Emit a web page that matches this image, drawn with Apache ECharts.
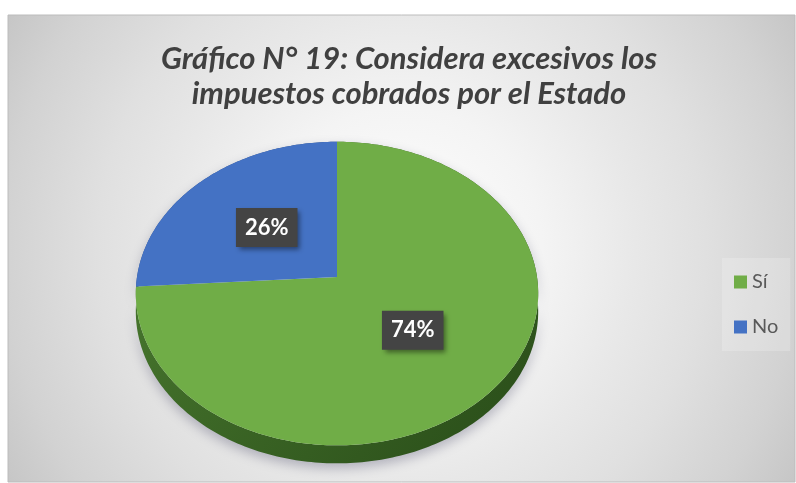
<!DOCTYPE html>
<html>
<head>
<meta charset="utf-8">
<script src="https://cdn.jsdelivr.net/npm/echarts@6/dist/echarts.min.js"></script>
<style>
    html, body { margin: 0; padding: 0; background: #fff; }
    #chart { width: 796px; height: 483px; }
</style>
</head>
<body>
<div id="chart"></div>
<script>
const titleLines = ['Gráfico N° 19: Considera excesivos los', 'impuestos cobrados por el Estado'];
const categories = ['Sí', 'No'];
const shares = [74, 26];

const topColors = ['#70AD47', '#4472C4'];
const sideColors = [['#4c7d31', '#284b18'], ['#33599a', '#223e70']];

// perspective 3D pie: centre of the disc, radii of the rim, tilt and thickness
const pie = { cx: 337, cy: 277, rx: 200, ry: 150, tilt: 0.109, depth: 18 };

const total = shares.reduce((a, b) => a + b, 0);
const starts = shares.map((_, i) => shares.slice(0, i).reduce((a, b) => a + b, 0));

function project(deg, f) {
    const a = deg * Math.PI / 180;
    const u = Math.sin(a) * f;
    const v = Math.cos(a) * f;
    const w = 1 + pie.tilt * v;
    return [pie.cx + pie.rx * u / w, pie.cy - pie.ry * v / w];
}

function arc(from, to) {
    const pts = [];
    const steps = Math.max(2, Math.ceil(to - from));
    for (let k = 0; k <= steps; k++) pts.push(project(from + (to - from) * k / steps, 1));
    return pts;
}

function sliceAngles(index, value) {
    const from = starts[index] / total * 360;
    return [from, from + value / total * 360];
}

function wallItem(params, api) {
    const i = params.dataIndex;
    const [from, to] = sliceAngles(i, api.value(0));
    const rim = arc(from, to);
    const lower = rim.map(p => [p[0], p[1] + pie.depth]).reverse();
    return {
        type: 'polygon',
        shape: { points: rim.concat(lower) },
        style: {
            fill: {
                type: 'linear', x: 0, y: 0, x2: 1, y2: 1,
                colorStops: [
                    { offset: 0, color: sideColors[i][0] },
                    { offset: 1, color: sideColors[i][1] }
                ]
            },
            shadowBlur: 12,
            shadowColor: 'rgba(70, 70, 100, 0.35)',
            shadowOffsetY: 5
        }
    };
}

function topItem(index) {
    return function (params, api) {
        const value = api.value(0);
        const [from, to] = sliceAngles(index, value);
        const mid = project((from + to) / 2, 0.5);
        return {
            type: 'group',
            children: [
                {
                    type: 'polygon',
                    shape: { points: [[pie.cx, pie.cy]].concat(arc(from, to)) },
                    style: { fill: topColors[index] }
                },
                {
                    type: 'text',
                    x: mid[0],
                    y: mid[1],
                    z2: 10,
                    style: {
                        text: Math.round(value / total * 100) + '%',
                        fill: '#ffffff',
                        font: 'bold 22px Lato',
                        align: 'center',
                        verticalAlign: 'middle',
                        backgroundColor: '#444444',
                        padding: [9, 9, 8, 9],
                        shadowColor: 'rgba(0, 0, 0, 0.45)',
                        shadowBlur: 5,
                        shadowOffsetX: 3,
                        shadowOffsetY: 3
                    }
                }
            ]
        };
    };
}

const chart = echarts.init(document.getElementById('chart'));

chart.setOption({
    animation: false,
    graphic: [
        {
            type: 'rect',
            z: -10,
            silent: true,
            shape: { x: 8, y: 15, width: 787, height: 467 },
            style: {
                fill: {
                    type: 'radial', x: 0.5, y: 0.5, r: 1,
                    colorStops: [
                        { offset: 0, color: '#ffffff' },
                        { offset: 0.3, color: '#f4f4f4' },
                        { offset: 0.5, color: '#e8e8e8' },
                        { offset: 0.65, color: '#e0e0e0' },
                        { offset: 0.85, color: '#d2d2d2' },
                        { offset: 1, color: '#c4c4c4' }
                    ]
                },
                stroke: '#bcbcbc',
                lineWidth: 1
            }
        },
        {
            type: 'text',
            x: 409,
            y: 41,
            silent: true,
            style: {
                text: titleLines.join('\n'),
                align: 'center',
                verticalAlign: 'top',
                font: 'italic bold 31px Lato',
                lineHeight: 35,
                fill: '#404040'
            }
        }
    ],
    legend: {
        data: categories,
        orient: 'vertical',
        left: 722,
        top: 258,
        padding: [14, 12, 14, 12],
        backgroundColor: 'rgba(255, 255, 255, 0.2)',
        icon: 'rect',
        itemWidth: 13,
        itemHeight: 13,
        itemGap: 25,
        textStyle: { fontFamily: 'Lato', fontSize: 20, color: '#595959' }
    },
    series: [
        {
            type: 'custom',
            name: 'lado',
            coordinateSystem: 'none',
            z: 1,
            silent: true,
            data: shares.map(v => [v]),
            renderItem: wallItem
        }
    ].concat(categories.map((name, i) => ({
        type: 'custom',
        name: name,
        coordinateSystem: 'none',
        z: 2,
        itemStyle: { color: topColors[i] },
        data: [[shares[i]]],
        renderItem: topItem(i)
    })))
});
</script>
</body>
</html>
